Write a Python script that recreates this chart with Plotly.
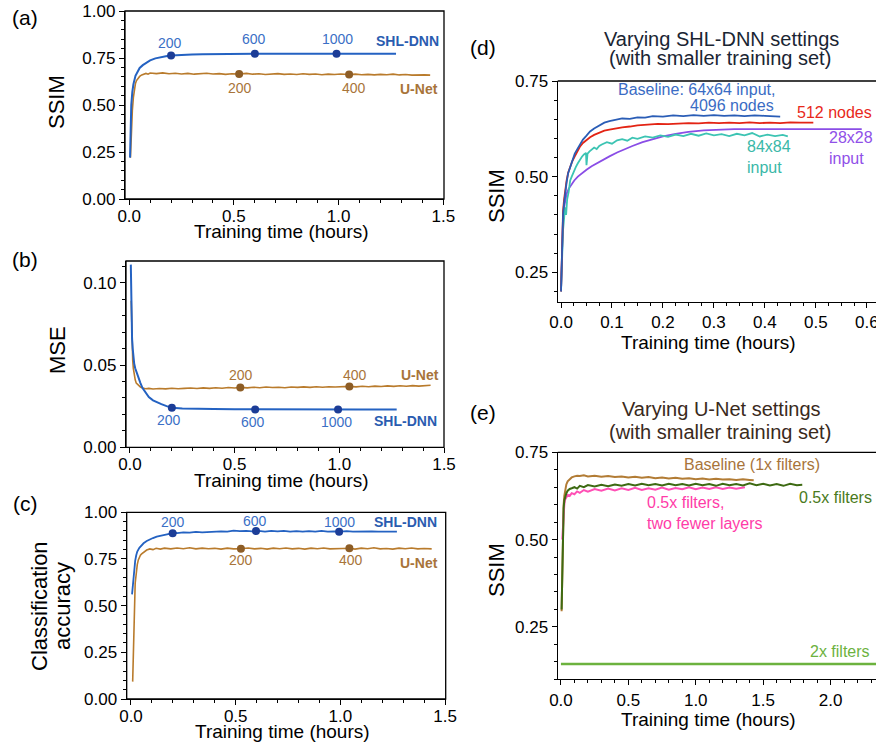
import plotly.graph_objects as go

W, H = 876, 751
FONT = "Liberation Sans, Arial, sans-serif"

# ---------------- Panel (a) SSIM ----------------
a_shl_x = [0.004, 0.006, 0.010, 0.015, 0.020, 0.030, 0.040, 0.050, 0.065, 0.080,
           0.100, 0.125, 0.150, 0.175, 0.200, 0.25, 0.30, 0.35, 0.40, 0.50,
           0.60, 0.70, 0.80, 0.90, 1.00, 1.10, 1.20, 1.274]
a_shl_y = [0.22, 0.38, 0.50, 0.57, 0.61, 0.655, 0.68, 0.697, 0.712, 0.724,
           0.737, 0.748, 0.755, 0.759, 0.763, 0.767, 0.769, 0.770, 0.771, 0.772,
           0.773, 0.773, 0.773, 0.773, 0.773, 0.773, 0.772, 0.772]
a_unet_x = [0.006, 0.010, 0.015, 0.020, 0.025, 0.030, 0.035, 0.040, 0.050, 0.060,
            0.070, 0.080, 0.090, 0.10, 0.13, 0.16, 0.19, 0.22, 0.25, 0.28,
            0.31, 0.34, 0.37, 0.40, 0.43, 0.46, 0.49, 0.525, 0.56, 0.59,
            0.62, 0.65, 0.68, 0.71, 0.74, 0.77, 0.80, 0.83, 0.86, 0.89,
            0.92, 0.95, 0.98, 1.01, 1.05, 1.08, 1.11, 1.14, 1.17, 1.20,
            1.23, 1.26, 1.29, 1.32, 1.35, 1.38, 1.41, 1.437]
a_unet_y = [0.22, 0.36, 0.47, 0.54, 0.59, 0.615, 0.63, 0.64, 0.652, 0.66,
            0.665, 0.668, 0.664, 0.670, 0.667, 0.671, 0.666, 0.669, 0.665, 0.668,
            0.664, 0.667, 0.669, 0.665, 0.667, 0.663, 0.666, 0.665, 0.668, 0.664,
            0.666, 0.662, 0.665, 0.667, 0.663, 0.665, 0.662, 0.666, 0.663, 0.665,
            0.661, 0.664, 0.662, 0.665, 0.662, 0.664, 0.661, 0.663, 0.660, 0.663,
            0.661, 0.664, 0.660, 0.662, 0.659, 0.661, 0.660, 0.659]
a_shl_mx = [0.20, 0.60, 0.99]
a_shl_my = [0.763, 0.773, 0.773]
a_unet_mx = [0.525, 1.05]
a_unet_my = [0.665, 0.662]

# ---------------- Panel (b) MSE ----------------
b_shl_x = [0.004, 0.006, 0.008, 0.010, 0.013, 0.016, 0.020, 0.025, 0.030, 0.040,
           0.050, 0.060, 0.075, 0.090, 0.11, 0.13, 0.15, 0.175, 0.20, 0.25,
           0.30, 0.40, 0.50, 0.60, 0.70, 0.80, 0.90, 1.00, 1.10, 1.20,
           1.274]
b_shl_y = [0.111, 0.088, 0.071, 0.066, 0.060, 0.055, 0.051, 0.048, 0.046, 0.042,
           0.039, 0.036, 0.033, 0.0305, 0.0285, 0.0272, 0.0262, 0.0250, 0.0241, 0.0236,
           0.0234, 0.0232, 0.0231, 0.0230, 0.0230, 0.0229, 0.0229, 0.0229, 0.0229, 0.0229,
           0.0229]
b_unet_x = [0.006, 0.008, 0.010, 0.013, 0.016, 0.020, 0.025, 0.030, 0.040, 0.050,
            0.060, 0.075, 0.09, 0.11, 0.14, 0.17, 0.20, 0.23, 0.26, 0.29,
            0.32, 0.35, 0.38, 0.41, 0.44, 0.47, 0.50, 0.527, 0.56, 0.59,
            0.62, 0.65, 0.68, 0.71, 0.74, 0.77, 0.80, 0.83, 0.86, 0.89,
            0.92, 0.95, 0.98, 1.01, 1.048, 1.08, 1.11, 1.14, 1.17, 1.20,
            1.23, 1.26, 1.29, 1.32, 1.35, 1.38, 1.41, 1.436]
b_unet_y = [0.089, 0.070, 0.060, 0.053, 0.048, 0.044, 0.041, 0.039, 0.0375, 0.0366,
            0.0360, 0.0356, 0.0358, 0.0354, 0.0357, 0.0355, 0.0359, 0.0356, 0.0358, 0.0360,
            0.0357, 0.0361, 0.0358, 0.0362, 0.0359, 0.0363, 0.0360, 0.0364, 0.0361, 0.0365,
            0.0362, 0.0366, 0.0363, 0.0365, 0.0362, 0.0366, 0.0364, 0.0367, 0.0364, 0.0368,
            0.0365, 0.0368, 0.0366, 0.0369, 0.0370, 0.0367, 0.0371, 0.0368, 0.0372, 0.0369,
            0.0373, 0.0370, 0.0374, 0.0371, 0.0375, 0.0372, 0.0376, 0.0377]
b_shl_mx = [0.20, 0.598, 0.994]
b_shl_my = [0.0241, 0.0229, 0.0229]
b_unet_mx = [0.527, 1.048]
b_unet_my = [0.0364, 0.0370]

# ---------------- Panel (c) Classification accuracy ----------------
c_shl_x = [0.005, 0.008, 0.012, 0.016, 0.020, 0.025, 0.030, 0.040, 0.050, 0.060,
           0.075, 0.090, 0.105, 0.123, 0.14, 0.16, 0.18, 0.199, 0.22, 0.25,
           0.28, 0.31, 0.34, 0.37, 0.40, 0.43, 0.46, 0.49, 0.52, 0.55,
           0.58, 0.61, 0.64, 0.67, 0.70, 0.73, 0.76, 0.79, 0.82, 0.85,
           0.88, 0.91, 0.94, 0.97, 1.00, 1.03, 1.06, 1.09, 1.12, 1.15,
           1.18, 1.21, 1.24, 1.27]
c_shl_y = [0.56, 0.60, 0.66, 0.71, 0.74, 0.77, 0.79, 0.81, 0.823, 0.834,
           0.846, 0.856, 0.862, 0.870, 0.874, 0.880, 0.884, 0.888, 0.889, 0.893,
           0.891, 0.895, 0.893, 0.896, 0.895, 0.898, 0.896, 0.902, 0.899, 0.901,
           0.898, 0.900, 0.897, 0.900, 0.898, 0.901, 0.897, 0.899, 0.896, 0.899,
           0.897, 0.900, 0.896, 0.898, 0.896, 0.899, 0.897, 0.898, 0.895, 0.898,
           0.896, 0.897, 0.895, 0.896]
c_unet_x = [0.008, 0.010, 0.012, 0.014, 0.017, 0.020, 0.022, 0.026, 0.030, 0.035,
            0.040, 0.045, 0.051, 0.060, 0.075, 0.09, 0.105, 0.12, 0.14, 0.16,
            0.19, 0.22, 0.25, 0.28, 0.31, 0.34, 0.37, 0.40, 0.43, 0.46,
            0.49, 0.525, 0.56, 0.59, 0.62, 0.65, 0.68, 0.71, 0.74, 0.77,
            0.80, 0.83, 0.86, 0.89, 0.92, 0.95, 0.98, 1.01, 1.043, 1.07,
            1.10, 1.13, 1.16, 1.19, 1.22, 1.25, 1.28, 1.31, 1.34, 1.37,
            1.40, 1.436]
c_unet_y = [0.093, 0.20, 0.33, 0.46, 0.56, 0.62, 0.64, 0.69, 0.72, 0.745,
            0.76, 0.77, 0.777, 0.787, 0.798, 0.804, 0.800, 0.807, 0.803, 0.808,
            0.804, 0.809, 0.805, 0.810, 0.804, 0.808, 0.805, 0.807, 0.803, 0.808,
            0.804, 0.805, 0.809, 0.804, 0.807, 0.803, 0.808, 0.805, 0.809, 0.804,
            0.807, 0.803, 0.808, 0.805, 0.809, 0.804, 0.807, 0.806, 0.807, 0.803,
            0.808, 0.805, 0.810, 0.804, 0.806, 0.803, 0.808, 0.805, 0.809, 0.804,
            0.806, 0.804]
c_shl_mx = [0.199, 0.597, 0.994]
c_shl_my = [0.888, 0.900, 0.896]
c_unet_mx = [0.525, 1.043]
c_unet_my = [0.805, 0.807]

# ---------------- Panel (d) SHL-DNN settings ----------------
d_base_x = [0.000, 0.002, 0.004, 0.006, 0.008, 0.011, 0.014, 0.018, 0.022, 0.027,
            0.032, 0.037, 0.043, 0.050, 0.057, 0.065, 0.075, 0.085, 0.095, 0.105,
            0.12, 0.135, 0.15, 0.165, 0.18, 0.20, 0.22, 0.24, 0.26, 0.28,
            0.30, 0.32, 0.34, 0.36, 0.38, 0.40, 0.42, 0.43]
d_base_y = [0.20, 0.33, 0.40, 0.43, 0.456, 0.485, 0.509, 0.525, 0.545, 0.560,
            0.572, 0.585, 0.597, 0.607, 0.618, 0.626, 0.633, 0.641, 0.645, 0.648,
            0.652, 0.651, 0.655, 0.654, 0.658, 0.657, 0.660, 0.658, 0.661, 0.659,
            0.661, 0.659, 0.660, 0.658, 0.660, 0.659, 0.658, 0.657]
d_512_x = [0.000, 0.002, 0.004, 0.006, 0.008, 0.011, 0.014, 0.018, 0.022, 0.027,
           0.032, 0.037, 0.043, 0.050, 0.057, 0.065, 0.075, 0.085, 0.095, 0.105,
           0.12, 0.135, 0.15, 0.17, 0.19, 0.21, 0.23, 0.25, 0.27, 0.29,
           0.31, 0.33, 0.35, 0.37, 0.39, 0.41, 0.43, 0.45, 0.47, 0.49,
           0.495]
d_512_y = [0.20, 0.34, 0.41, 0.44, 0.465, 0.49, 0.51, 0.526, 0.54, 0.553,
           0.567, 0.578, 0.588, 0.596, 0.603, 0.609, 0.615, 0.620, 0.623, 0.626,
           0.629, 0.631, 0.634, 0.636, 0.638, 0.637, 0.639, 0.640, 0.639, 0.641,
           0.640, 0.641, 0.640, 0.642, 0.640, 0.641, 0.640, 0.642, 0.641, 0.642,
           0.641]
d_84_x = [0.000, 0.002, 0.004, 0.006, 0.008, 0.010, 0.012, 0.015, 0.018, 0.021,
          0.025, 0.029, 0.033, 0.037, 0.041, 0.045, 0.049, 0.050, 0.052, 0.056,
          0.060, 0.065, 0.070, 0.075, 0.080, 0.090, 0.100, 0.110, 0.120, 0.130,
          0.140, 0.150, 0.165, 0.180, 0.195, 0.21, 0.225, 0.24, 0.255, 0.27,
          0.285, 0.30, 0.315, 0.33, 0.345, 0.36, 0.375, 0.39, 0.405, 0.42,
          0.435, 0.445]
d_84_y = [0.20, 0.30, 0.36, 0.39, 0.42, 0.40, 0.44, 0.46, 0.49, 0.50,
          0.515, 0.525, 0.535, 0.545, 0.552, 0.558, 0.562, 0.530, 0.560, 0.566,
          0.570, 0.576, 0.572, 0.580, 0.584, 0.590, 0.586, 0.595, 0.598, 0.594,
          0.602, 0.599, 0.605, 0.602, 0.608, 0.604, 0.610, 0.606, 0.612, 0.607,
          0.613, 0.608, 0.611, 0.606, 0.612, 0.608, 0.614, 0.605, 0.610, 0.606,
          0.609, 0.605]
d_28_x = [0.000, 0.002, 0.004, 0.006, 0.008, 0.011, 0.015, 0.020, 0.026, 0.033,
          0.040, 0.050, 0.060, 0.070, 0.080, 0.095, 0.110, 0.125, 0.140, 0.160,
          0.180, 0.200, 0.225, 0.25, 0.28, 0.31, 0.34, 0.38, 0.42, 0.46,
          0.50, 0.54, 0.59]
d_28_y = [0.20, 0.33, 0.39, 0.42, 0.435, 0.455, 0.468, 0.479, 0.490, 0.500,
          0.508, 0.518, 0.527, 0.535, 0.542, 0.553, 0.563, 0.572, 0.580, 0.590,
          0.598, 0.605, 0.612, 0.617, 0.621, 0.623, 0.624, 0.624, 0.624, 0.624,
          0.624, 0.624, 0.624]

# ---------------- Panel (e) U-Net settings ----------------
e_base_x = [0.005, 0.010, 0.015, 0.020, 0.025, 0.030, 0.040, 0.050, 0.065, 0.080,
            0.10, 0.12, 0.14, 0.17, 0.20, 0.25, 0.30, 0.35, 0.40, 0.45,
            0.50, 0.55, 0.60, 0.65, 0.70, 0.75, 0.80, 0.85, 0.90, 0.95,
            1.00, 1.05, 1.10, 1.15, 1.20, 1.25, 1.30, 1.35, 1.40, 1.43]
e_base_y = [0.295, 0.45, 0.55, 0.60, 0.625, 0.642, 0.658, 0.667, 0.674, 0.678,
            0.681, 0.683, 0.682, 0.684, 0.681, 0.683, 0.680, 0.682, 0.679, 0.681,
            0.678, 0.680, 0.677, 0.679, 0.676, 0.678, 0.675, 0.677, 0.674, 0.676,
            0.673, 0.675, 0.672, 0.674, 0.672, 0.673, 0.671, 0.673, 0.671, 0.670]
e_half_x = [0.005, 0.010, 0.015, 0.020, 0.025, 0.030, 0.040, 0.050, 0.065, 0.080,
            0.10, 0.12, 0.14, 0.17, 0.20, 0.25, 0.30, 0.35, 0.40, 0.45,
            0.50, 0.55, 0.60, 0.65, 0.70, 0.75, 0.80, 0.85, 0.90, 0.95,
            1.00, 1.05, 1.10, 1.15, 1.20, 1.25, 1.30, 1.35, 1.40, 1.45,
            1.50, 1.55, 1.60, 1.65, 1.70, 1.75, 1.79]
e_half_y = [0.30, 0.45, 0.54, 0.59, 0.612, 0.623, 0.633, 0.640, 0.645, 0.647,
            0.650, 0.646, 0.654, 0.650, 0.656, 0.652, 0.657, 0.653, 0.658, 0.654,
            0.659, 0.655, 0.660, 0.656, 0.659, 0.655, 0.660, 0.656, 0.659, 0.655,
            0.660, 0.656, 0.659, 0.654, 0.660, 0.656, 0.659, 0.655, 0.661, 0.656,
            0.660, 0.655, 0.659, 0.654, 0.660, 0.656, 0.657]
e_fewer_x = [0.010, 0.015, 0.020, 0.025, 0.030, 0.040, 0.050, 0.065, 0.080, 0.10,
             0.12, 0.14, 0.17, 0.20, 0.25, 0.30, 0.35, 0.40, 0.45, 0.50,
             0.55, 0.60, 0.65, 0.70, 0.75, 0.80, 0.85, 0.90, 0.95, 1.00,
             1.05, 1.10, 1.15, 1.20, 1.25, 1.30, 1.365]
e_fewer_y = [0.50, 0.55, 0.585, 0.600, 0.614, 0.620, 0.628, 0.625, 0.633, 0.630,
             0.638, 0.634, 0.642, 0.637, 0.645, 0.640, 0.646, 0.641, 0.647, 0.642,
             0.648, 0.642, 0.647, 0.643, 0.649, 0.643, 0.648, 0.644, 0.650, 0.644,
             0.649, 0.645, 0.650, 0.645, 0.649, 0.646, 0.650]
e_2x_x = [0.0, 2.4]
e_2x_y = [0.144, 0.144]

# colours
BLUE = "#2462c2"; BLUE_M = "#1c3d97"; BLUE_T = "#3b6fc6"
BROWN = "#b97b2c"; BROWN_M = "#8d5d26"; BROWN_T = "#a8743a"

fig = go.Figure()

def line(x, y, ax, color, width=1.5):
    fig.add_trace(go.Scatter(x=x, y=y, mode="lines", xaxis="x" + ax, yaxis="y" + ax,
                             line=dict(color=color, width=width), showlegend=False,
                             hoverinfo="skip"))

def marks(x, y, ax, color):
    fig.add_trace(go.Scatter(x=x, y=y, mode="markers", xaxis="x" + ax, yaxis="y" + ax,
                             marker=dict(color=color, size=8), showlegend=False,
                             hoverinfo="skip"))

# (a)
line(a_unet_x, a_unet_y, "", BROWN, 1.6)
line(a_shl_x, a_shl_y, "", BLUE, 2)
marks(a_unet_mx, a_unet_my, "", BROWN_M)
marks(a_shl_mx, a_shl_my, "", BLUE_M)
# (b)
line(b_unet_x, b_unet_y, "2", BROWN, 1.6)
line(b_shl_x, b_shl_y, "2", BLUE, 2)
marks(b_unet_mx, b_unet_my, "2", BROWN_M)
marks(b_shl_mx, b_shl_my, "2", BLUE_M)
# (c)
line(c_unet_x, c_unet_y, "3", BROWN, 1.6)
line(c_shl_x, c_shl_y, "3", BLUE, 1.8)
marks(c_unet_mx, c_unet_my, "3", BROWN_M)
marks(c_shl_mx, c_shl_my, "3", BLUE_M)
# (d)
line(d_28_x, d_28_y, "4", "#8a4de6", 1.8)
line(d_84_x, d_84_y, "4", "#3cc4b3", 1.8)
line(d_512_x, d_512_y, "4", "#e32414", 1.8)
line(d_base_x, d_base_y, "4", "#2a5db6", 1.8)
# (e)
line(e_base_x, e_base_y, "5", "#b27c35", 2)
line(e_fewer_x, e_fewer_y, "5", "#ff4fb5", 2)
line(e_half_x, e_half_y, "5", "#3d6a12", 2)
line(e_2x_x, e_2x_y, "5", "#6cb23e", 2.5)

def px2paper(px, py):
    return px / W, 1 - py / H

def axis(domain, rng, tickvals, fmt, minor_dtick, anchor, standoff=0):
    return dict(domain=domain, range=rng, tickvals=tickvals, tickformat=fmt,
                showline=True, linecolor="black", linewidth=1.3, mirror=False,
                ticks="outside", ticklen=5, tickwidth=1.2, tickcolor="black",
                minor=dict(ticks="outside", ticklen=3, tickwidth=1, tickcolor="black",
                           dtick=minor_dtick, showgrid=False),
                showgrid=False, zeroline=False, anchor=anchor, automargin=False,
                ticklabeloverflow="allow", ticklabelstandoff=standoff,
                tickfont=dict(family=FONT, size=17, color="black"))

def xd(l, r):
    return [l / W, r / W]

def yd(t, b):
    return [1 - b / H, 1 - t / H]

layout = dict(
    template="none",
    width=W, height=H, autosize=False,
    margin=dict(l=0, r=0, t=0, b=0, pad=0),
    paper_bgcolor="white", plot_bgcolor="white",
    font=dict(family=FONT, color="black"),
    xaxis=axis(xd(125, 444), [-0.02, 1.503], [0, 0.5, 1.0, 1.5], ".1f", 0.1, "y", -4),
    yaxis=axis(yd(11, 199), [0, 1.0], [0, 0.25, 0.5, 0.75, 1.0], ".2f", 0.05, "x"),
    xaxis2=axis(xd(126, 444), [-0.019, 1.5], [0, 0.5, 1.0, 1.5], ".1f", 0.1, "y2", -4),
    yaxis2=axis(yd(261, 447.3), [0, 0.1132], [0, 0.05, 0.10], ".2f", 0.01, "x2"),
    xaxis3=axis(xd(126.7, 445.7), [-0.0205, 1.503], [0, 0.5, 1.0, 1.5], ".1f", 0.1, "y3", -4),
    yaxis3=axis(yd(512.3, 699), [0, 1.0], [0, 0.25, 0.5, 0.75, 1.0], ".2f", 0.05, "x3"),
    xaxis4=axis(xd(557.7, 876), [-0.0065, 0.618], [0, 0.1, 0.2, 0.3, 0.4, 0.5, 0.6], ".1f", 0.025, "y4"),
    yaxis4=axis(yd(81, 301.7), [0.173, 0.75], [0.25, 0.5, 0.75], ".2f", 0.05, "x4"),
    xaxis5=axis(xd(557.7, 876), [-0.024, 2.337], [0, 0.5, 1.0, 1.5, 2.0], ".1f", 0.1, "y5"),
    yaxis5=axis(yd(452.3, 679.3), [0.10, 0.75], [0.25, 0.5, 0.75], ".2f", 0.05, "x5"),
)
fig.update_layout(**layout)

# frames: full boxes for (a)-(c), top line for (d),(e)
shapes = []
for ax in ["", "2", "3"]:
    shapes.append(dict(type="rect", xref="x%s domain" % ax, yref="y%s domain" % ax,
                       x0=0, x1=1, y0=0, y1=1, line=dict(color="black", width=1.3),
                       fillcolor="rgba(0,0,0,0)", layer="above"))
for ax in ["4", "5"]:
    shapes.append(dict(type="line", xref="x%s domain" % ax, yref="y%s domain" % ax,
                       x0=0, x1=1, y0=1, y1=1, line=dict(color="black", width=1.3),
                       layer="above"))
fig.update_layout(shapes=shapes)

ann = []

def paper_text(text, px, py, size, color="black", angle=0, xanchor="center", align="center", bold=False):
    x, y = px2paper(px, py)
    if bold:
        text = "<b>" + text + "</b>"
    ann.append(dict(text=text, x=x, y=y, xref="paper", yref="paper", showarrow=False,
                    xanchor=xanchor, yanchor="middle", textangle=angle, align=align,
                    font=dict(family=FONT, size=size, color=color)))

def data_text(text, x, y, ax, size, color, xanchor="center", align="center", bold=False):
    if bold:
        text = "<b>" + text + "</b>"
    ann.append(dict(text=text, x=x, y=y, xref="x" + ax, yref="y" + ax, showarrow=False,
                    xanchor=xanchor, yanchor="middle", align=align,
                    font=dict(family=FONT, size=size, color=color)))

# panel labels
paper_text("(a)", 25, 17, 21)
paper_text("(b)", 25, 259, 21)
paper_text("(c)", 25, 503, 21)
paper_text("(d)", 483, 48, 21)
paper_text("(e)", 483, 412, 21)

# axis titles
XT = "Training time (hours)"
paper_text("SSIM", 57, 102, 22, angle=-90)
paper_text("MSE", 57, 350, 22, angle=-90)
paper_text("Classification", 39, 606, 22, angle=-90)
paper_text("accuracy", 62, 606, 22, angle=-90)
paper_text("SSIM", 496, 196, 22, angle=-90)
paper_text("SSIM", 496, 570, 22, angle=-90)
paper_text(XT, 281, 232, 19)
paper_text(XT, 281, 480, 19)
paper_text(XT, 282, 731, 19)
paper_text(XT, 708, 342, 19)
paper_text(XT, 708, 719, 19)

# titles of (d) and (e)
paper_text("Varying SHL-DNN settings", 721, 39, 20, color="#1a2533")
paper_text("(with smaller training set)", 720, 58, 20, color="#1a2533")
paper_text("Varying U-Net settings", 721, 409, 20, color="#3a2a1c")
paper_text("(with smaller training set)", 720, 432, 20, color="#3a2a1c")

# (a) annotations
for t, x, y in zip(["200", "600", "1000"], [0.194, 0.596, 0.994], [0.828, 0.849, 0.849]):
    data_text(t, x, y, "", 14, BLUE_T)
for t, x, y in zip(["200", "400"], [0.53, 1.075], [0.589, 0.589]):
    data_text(t, x, y, "", 14, BROWN_T)
data_text("SHL-DNN", 1.328, 0.842, "", 14, "#2a5cb0", bold=True)
data_text("U-Net", 1.386, 0.585, "", 14, "#a8743a", bold=True)
# (b)
for t, x, y in zip(["200", "600", "1000"], [0.187, 0.59, 0.985], [0.0166, 0.0152, 0.0152]):
    data_text(t, x, y, "2", 14, BLUE_T)
for t, x, y in zip(["200", "400"], [0.53, 1.077], [0.0439, 0.0439]):
    data_text(t, x, y, "2", 14, BROWN_T)
data_text("SHL-DNN", 1.316, 0.0162, "2", 14, "#2a5cb0", bold=True)
data_text("U-Net", 1.385, 0.0439, "2", 14, "#a8743a", bold=True)
# (c)
for t, x, y in zip(["200", "600", "1000"], [0.199, 0.594, 0.994], [0.946, 0.955, 0.95]):
    data_text(t, x, y, "3", 14, BLUE_T)
for t, x, y in zip(["200", "400"], [0.524, 1.049], [0.745, 0.745]):
    data_text(t, x, y, "3", 14, BROWN_T)
data_text("SHL-DNN", 1.309, 0.946, "3", 14, "#2a5cb0", bold=True)
data_text("U-Net", 1.377, 0.727, "3", 14, "#a8743a", bold=True)
# (d)
data_text("Baseline: 64x64 input,", 0.4234, 0.7283, "4", 16, "#3a6cc4", xanchor="right")
data_text("4096 nodes", 0.4214, 0.6847, "4", 16, "#3a6cc4", xanchor="right")
data_text("512 nodes", 0.4593, 0.6672, "4", 16, "#e8281a", xanchor="left")
data_text("84x84<br>input", 0.3611, 0.552, "4", 16, "#3ab8a8", xanchor="left", align="left")
data_text("28x28<br>input", 0.5215, 0.5742, "4", 16, "#9050e8", xanchor="left", align="left")
# (e)
data_text("Baseline (1x filters)", 1.415, 0.7137, "5", 16, "#a8743a")
data_text("0.5x filters", 1.748, 0.6214, "5", 16, "#4a7a20", xanchor="left")
data_text("0.5x filters,<br>two fewer layers", 0.623, 0.5757, "5", 16, "#ff3ca8", xanchor="left", align="left")
data_text("2x filters", 2.305, 0.1786, "5", 16, "#6cb23e", xanchor="right")

fig.update_layout(annotations=ann)
fig.write_html("out.html", config={"displayModeBar": False},
               post_script="document.body.style.margin='0';document.body.style.overflow='hidden';")
